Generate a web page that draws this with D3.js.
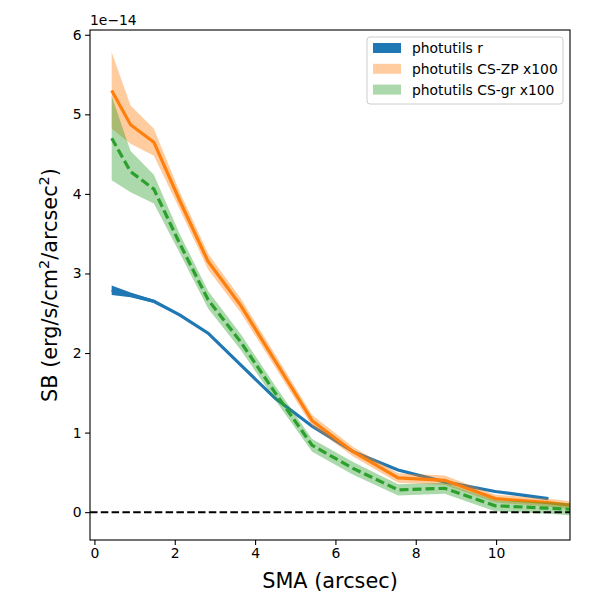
<!DOCTYPE html>
<html>
<head>
<meta charset="utf-8">
<script src="https://cdn.jsdelivr.net/npm/d3@7"></script>
<style>
body { margin: 0; background: #fff; }
text { font-family: "DejaVu Sans", sans-serif; fill: #000; }
</style>
</head>
<body>
<div id="chart-area"></div>
<script>
// data (SB in units of 1e-14)
var sma = [0.43, 0.90, 1.48, 2.12, 2.83, 3.64, 4.50, 5.42, 6.44, 7.56, 8.72, 9.98, 11.30, 12.50];

var sbR = [2.79, 2.73, 2.65, 2.48, 2.25, 1.85, 1.43, 1.08, 0.76, 0.53, 0.38, 0.26, 0.17];
var sbRErr = [0.06, 0.03, 0.02, 0.012, 0.01, 0.01, 0.01, 0.01, 0.01, 0.01, 0.01, 0.01, 0.01];

var sbZP = [5.30, 4.87, 4.65, 3.92, 3.15, 2.60, 1.90, 1.15, 0.76, 0.43, 0.40, 0.17, 0.12, 0.05];
var sbZPErr = [0.48, 0.24, 0.17, 0.11, 0.10, 0.09, 0.08, 0.07, 0.06, 0.06, 0.06, 0.05, 0.05, 0.05];

var sbGR = [4.70, 4.28, 4.06, 3.38, 2.67, 2.14, 1.50, 0.84, 0.55, 0.28, 0.30, 0.08, 0.05, 0.02];
var sbGRErr = [0.53, 0.26, 0.18, 0.12, 0.11, 0.10, 0.09, 0.08, 0.08, 0.07, 0.07, 0.07, 0.07, 0.08];

var seriesNames = ["photutils r", "photutils CS-ZP x100", "photutils CS-gr x100"];
var xTicks = [0, 2, 4, 6, 8, 10];
var yTicks = [0, 1, 2, 3, 4, 5, 6];

var margin = { left: 90, right: 30, top: 30, bottom: 60 };
var width = 480;
var height = 510;

var svg = d3.select("#chart-area").append("svg")
	.attr("width", 600)
	.attr("height", 600);

var g = svg.append("g")
	.attr("transform", "translate(" + margin.left + ", " + margin.top + ")");

// Scales
var x = d3.scaleLinear()
	.domain([-0.11, 11.84])
	.range([0, width]);

var y = d3.scaleLinear()
	.domain([-0.35, 6.06])
	.range([height, 0]);

var colors = ["#1f77b4", "#ff7f0e", "#2ca02c"];
var fillOpacity = [1, 0.4, 0.4];

g.append("clipPath")
	.attr("id", "clip")
	.append("rect")
	.attr("width", width)
	.attr("height", height);

var plot = g.append("g").attr("clip-path", "url(#clip)");

var series = [
	{ v: sbR, e: sbRErr, dash: null },
	{ v: sbZP, e: sbZPErr, dash: null },
	{ v: sbGR, e: sbGRErr, dash: "9,4" }
];

var area = d3.area()
	.x((d) => x(d.x))
	.y0((d) => y(d.v - d.e))
	.y1((d) => y(d.v + d.e));

var line = d3.line()
	.x((d) => x(d.x))
	.y((d) => y(d.v));

series.forEach((s, i) => {
	var pts = s.v.map((v, j) => ({ x: sma[j], v: v, e: s.e[j] }));

	plot.append("path")
		.datum(pts)
		.attr("d", area)
		.attr("fill", colors[i])
		.attr("fill-opacity", fillOpacity[i]);

	plot.append("path")
		.datum(pts)
		.attr("d", line)
		.attr("fill", "none")
		.attr("stroke", colors[i])
		.attr("stroke-width", 3.2)
		.attr("stroke-dasharray", s.dash);
});

// zero line
plot.append("line")
	.attr("x1", 0)
	.attr("x2", width)
	.attr("y1", y(0))
	.attr("y2", y(0))
	.attr("stroke", "#000")
	.attr("stroke-width", 2)
	.attr("stroke-dasharray", "7.5,3.3");

// Axes
var xAxisCall = d3.axisBottom(x)
	.tickValues(xTicks)
	.tickFormat(d3.format("d"))
	.tickSizeInner(4.9)
	.tickSizeOuter(0)
	.tickPadding(3.5);

var yAxisCall = d3.axisLeft(y)
	.tickValues(yTicks)
	.tickFormat(d3.format("d"))
	.tickSizeInner(4.9)
	.tickSizeOuter(0)
	.tickPadding(3.5);

var xAxisGroup = g.append("g")
	.attr("transform", "translate(0, " + height + ")")
	.call(xAxisCall);

var yAxisGroup = g.append("g")
	.call(yAxisCall);

[xAxisGroup, yAxisGroup].forEach((ax) => {
	ax.select(".domain").remove();
	ax.selectAll("line").attr("stroke", "#000").attr("stroke-width", 1.1);
	ax.selectAll("text")
		.style("font-family", "DejaVu Sans")
		.style("font-size", "13.9px")
		.attr("fill", "#000");
});

// frame
g.append("rect")
	.attr("width", width)
	.attr("height", height)
	.attr("fill", "none")
	.attr("stroke", "#000")
	.attr("stroke-width", 1.1);

// offset text
g.append("text")
	.attr("x", 0)
	.attr("y", -5)
	.style("font-size", "13.9px")
	.text("1e\u221214");

// x label
g.append("text")
	.attr("x", width / 2)
	.attr("y", height + 48)
	.attr("text-anchor", "middle")
	.style("font-size", "20.8px")
	.text("SMA (arcsec)");

// y label
var yLabel = g.append("text")
	.attr("transform", "rotate(-90)")
	.attr("x", -(height / 2))
	.attr("y", -33)
	.attr("text-anchor", "middle")
	.style("font-size", "20.8px");

yLabel.append("tspan").text("SB (erg/s/cm");
yLabel.append("tspan").attr("dy", -8).style("font-size", "14.5px").text("2");
yLabel.append("tspan").attr("dy", 8).text("/arcsec");
yLabel.append("tspan").attr("dy", -8).style("font-size", "14.5px").text("2");
yLabel.append("tspan").attr("dy", 8).text(")");

// legend
var legend = g.append("g")
	.attr("transform", "translate(" + (width - 203) + ", 7)");

legend.append("rect")
	.attr("width", 196)
	.attr("height", 67)
	.attr("rx", 3)
	.attr("fill", "#fff")
	.attr("fill-opacity", 0.8)
	.attr("stroke", "#cccccc")
	.attr("stroke-width", 1);

seriesNames.forEach((name, i) => {
	var legendRow = legend.append("g")
		.attr("transform", "translate(6, " + (6 + i * 20.8) + ")");

	legendRow.append("rect")
		.attr("width", 28)
		.attr("height", 10)
		.attr("fill", colors[i])
		.attr("fill-opacity", fillOpacity[i]);

	legendRow.append("text")
		.attr("x", 39)
		.attr("y", 10)
		.style("font-size", "13.9px")
		.text(name);
});
</script>
</body>
</html>
